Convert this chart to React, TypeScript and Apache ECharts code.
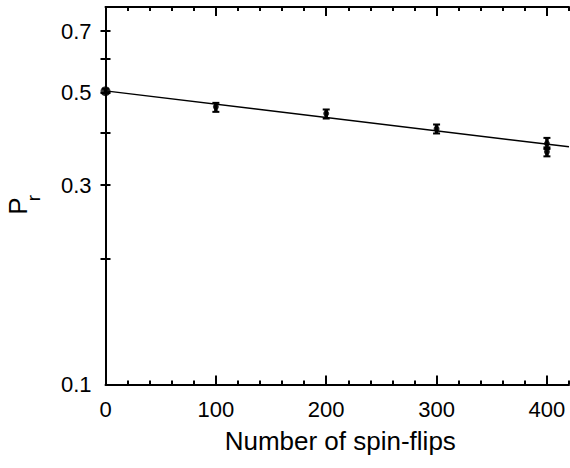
import React, { useEffect, useRef } from 'react';
import * as echarts from 'echarts';

// ---- data ----
const flips = [0, 100, 200, 300, 400, 400];
const probability = [0.503, 0.4615, 0.4449, 0.4088, 0.3772, 0.3602];
const errorLow = [0.497, 0.449, 0.4328, 0.3986, 0.366, 0.3514];
const errorHigh = [0.51, 0.4718, 0.4549, 0.4188, 0.389, 0.3692];
const fitX = [0, 420];
const fitY = [0.504, 0.3703];
const xLabelValues = [0, 100, 200, 300, 400];
const xMajorTickValues = [100, 200, 300, 400];
const yTickValues = [0.2, 0.3, 0.4, 0.5, 0.6, 0.7];
const yLabelValues = [0.1, 0.3, 0.5, 0.7];

const FONT = '"Liberation Sans", Arial, Helvetica, sans-serif';
const BLACK = '#000';

export default function App() {
  const ref = useRef<HTMLDivElement>(null);
  useEffect(() => {
    if (!ref.current) return;
    const chart = echarts.init(ref.current, undefined, { renderer: 'svg' });
    const lineStyle = { color: BLACK, width: 2 };
    const xBase = { type: 'value', min: 0, max: 420, splitLine: { show: false } };
    const yBase = { type: 'log', logBase: 10, min: 0.1, max: 0.8, splitLine: { show: false } };
    const option: any = {
      animation: false,
      backgroundColor: '#ffffff',
      grid: { left: 105.5, right: 1, top: 7, bottom: 83.5 },
      xAxis: [
        {
          ...xBase,
          position: 'bottom',
          axisLine: { show: true, lineStyle },
          axisTick: { show: true, inside: true, length: 9, lineStyle, customValues: xMajorTickValues },
          axisLabel: { customValues: xLabelValues, fontSize: 22, color: BLACK, fontFamily: FONT, margin: 14 },
          name: 'Number of spin-flips',
          nameLocation: 'middle',
          nameGap: 43,
          nameTextStyle: { fontSize: 26, color: BLACK, fontFamily: FONT, padding: [0, 0, 0, 6] },
        },
        {
          ...xBase,
          position: 'bottom',
          interval: 20,
          axisLine: { show: false },
          axisTick: { show: true, inside: true, length: 4, lineStyle },
          axisLabel: { show: false },
        },
        {
          ...xBase,
          position: 'top',
          axisLine: { show: true, lineStyle },
          axisTick: { show: true, inside: true, length: 9, lineStyle, customValues: xMajorTickValues },
          axisLabel: { show: false },
        },
        {
          ...xBase,
          position: 'top',
          interval: 20,
          axisLine: { show: false },
          axisTick: { show: true, inside: true, length: 4, lineStyle },
          axisLabel: { show: false },
        },
      ],
      yAxis: [
        {
          ...yBase,
          position: 'left',
          axisLine: { show: true, lineStyle },
          axisTick: { show: true, inside: true, length: 5, lineStyle, customValues: yTickValues },
          axisLabel: {
            customValues: yLabelValues, fontSize: 22, color: BLACK, fontFamily: FONT, margin: 14,
            padding: [5, 0, 0, 0],
          },
        },
        {
          ...yBase,
          position: 'right',
          axisLine: { show: true, lineStyle },
          axisTick: { show: true, inside: true, length: 5, lineStyle, customValues: yTickValues },
          axisLabel: { show: false },
        },
      ],
      graphic: [
        {
          type: 'group',
          x: 17.5,
          y: 206,
          rotation: Math.PI / 2,
          children: [
            {
              type: 'text',
              x: 0,
              y: 0,
              style: {
                text: 'P', fontSize: 26, fontFamily: FONT, fill: BLACK,
                align: 'center', verticalAlign: 'middle', textAlign: 'center', textVerticalAlign: 'middle',
              },
            },
            {
              type: 'text',
              x: 8,
              y: 15.5,
              style: {
                text: 'r', fontSize: 19, fontFamily: FONT, fill: BLACK,
                align: 'center', verticalAlign: 'middle', textAlign: 'center', textVerticalAlign: 'middle',
              },
            },
          ],
        },
      ],
      series: [
        {
          type: 'line',
          xAxisIndex: 0,
          yAxisIndex: 0,
          data: fitX.map((x, i) => [x, fitY[i]]),
          showSymbol: false,
          symbol: 'none',
          lineStyle: { color: BLACK, width: 1.5 },
          z: 2,
        },
        {
          type: 'custom',
          xAxisIndex: 0,
          yAxisIndex: 0,
          data: flips.map((x, i) => [x, errorLow[i], errorHigh[i]]),
          encode: { x: 0, y: [1, 2] },
          renderItem: (params: any, api: any) => {
            const x = api.value(0);
            const lo = api.coord([x, api.value(1)]);
            const hi = api.coord([x, api.value(2)]);
            const w = 3.5;
            const cap = { stroke: BLACK, lineWidth: 2 };
            return {
              type: 'group',
              children: [
                { type: 'line', shape: { x1: lo[0], y1: lo[1], x2: hi[0], y2: hi[1] }, style: { stroke: BLACK, lineWidth: 3.5 } },
                { type: 'line', shape: { x1: lo[0] - w, y1: lo[1], x2: lo[0] + w, y2: lo[1] }, style: cap },
                { type: 'line', shape: { x1: hi[0] - w, y1: hi[1], x2: hi[0] + w, y2: hi[1] }, style: cap },
              ],
            };
          },
          z: 3,
        },
        {
          type: 'scatter',
          xAxisIndex: 0,
          yAxisIndex: 0,
          data: flips.map((x, i) => [x, probability[i]]),
          symbol: 'circle',
          symbolSize: (_v: any, p: any) => (p.dataIndex === 0 ? 10 : 6),
          itemStyle: { color: BLACK },
          clip: false,
          z: 4,
        },
      ],
    };
    chart.setOption(option);
    return () => chart.dispose();
  }, []);
  return (
    <div
      ref={ref}
      style={{ position: 'fixed', left: 0, top: 0, width: 570, height: 468, background: '#fff' }}
    />
  );
}
